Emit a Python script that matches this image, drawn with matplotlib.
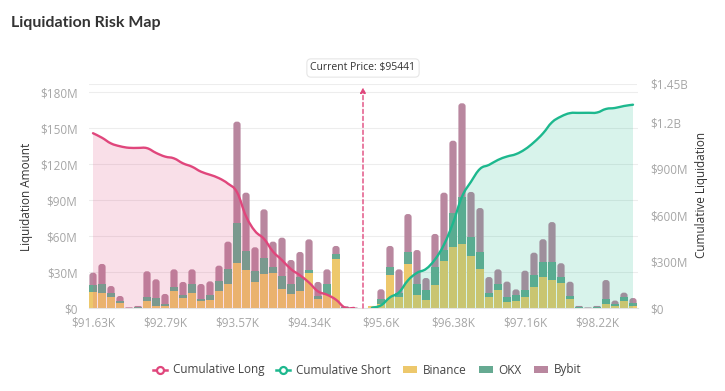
import numpy as np
import matplotlib
matplotlib.use("Agg")
import matplotlib.pyplot as plt
from matplotlib.path import Path
from matplotlib.patches import PathPatch, Patch, FancyBboxPatch
from matplotlib.lines import Line2D

# ---------------- data ----------------
tick_idx = [0, 8, 16, 24, 32, 40, 48, 56]
tick_labels = ["$91.63K", "$92.79K", "$93.57K", "$94.34K", "$95.6K", "$96.38K", "$97.16K", "$98.22K"]

binance = [13.6, 12.8, 8.9, 3.9, 0.2, 0.3, 6.1, 1.9, 1.9, 14.4,
           8.3, 12.8, 5.6, 6.7, 14.4, 20.0, 37.2, 31.7, 21.9, 28.3,
           28.9, 16.1, 11.7, 14.4, 29.4, 7.8, 10.6, 40.6, 0.3, 0.1,
           0.0,
           1.7, 3.0, 27.5, 8.9, 36.7, 10.6, 6.7, 19.2, 38.9, 50.6,
           53.3, 43.6, 32.8, 9.4, 15.0, 5.3, 6.1, 8.9, 17.2, 25.6,
           23.3, 20.6, 7.2, 0.3, 0.1, 0.3, 3.3, 1.7, 6.1, 1.7]
okx = [5.6, 7.5, 3.3, 1.7, 0.1, 0.3, 3.3, 6.4, 1.1, 3.3,
       2.8, 7.2, 2.2, 4.4, 8.1, 12.2, 33.9, 16.1, 9.2, 13.4,
       5.0, 10.6, 8.3, 11.7, 2.2, 2.2, 9.4, 4.4, 0.5, 0.2,
       0.0,
       0.0, 4.2, 6.9, 3.9, 10.2, 9.4, 8.3, 14.7, 9.4, 28.3,
       39.5, 15.3, 13.9, 3.4, 5.0, 4.2, 4.7, 6.1, 10.0, 12.8,
       15.0, 5.6, 2.8, 0.5, 0.2, 0.5, 4.4, 1.7, 2.8, 2.2]
bybit = [10.2, 16.4, 6.1, 4.4, 0.3, 1.1, 21.2, 15.6, 8.7, 14.5,
         10.6, 12.2, 12.2, 11.1, 12.8, 23.1, 84.2, 48.3, 19.5, 40.5,
         21.4, 31.9, 20.0, 20.6, 25.6, 11.7, 12.2, 6.7, 0.7, 0.2,
         0.0,
         0.0, 8.4, 17.3, 19.4, 31.4, 28.3, 10.0, 27.8, 47.8, 60.5,
         77.8, 37.8, 36.6, 13.0, 12.2, 12.5, 4.7, 16.1, 18.9, 18.9,
         33.3, 11.1, 11.9, 0.9, 0.2, 0.9, 15.6, 2.8, 3.9, 4.4]

current_idx = 30
current_label = "Current Price: $95441"
long_range = (0, 29)     # categories below current price
short_range = (31, 60)   # categories above current price

left_ticks = [0, 30, 60, 90, 120, 150, 180]
left_labels = ["$0", "$30M", "$60M", "$90M", "$120M", "$150M", "$180M"]
right_ticks = [0, 300, 600, 900, 1200, 1450]
right_labels = ["$0", "$300M", "$600M", "$900M", "$1.2B", "$1.45B"]

# ---------------- style ----------------
C_BIN = "#EDC86C"
C_OKX = "#66AA92"
C_BYB = "#B9879F"
C_LONG = "#E0467C"
C_SHORT = "#1DB88E"
FONT = "Open Sans"
plt.rcParams["font.family"] = [FONT, "DejaVu Sans"]

W, H = 725, 391
fig = plt.figure(figsize=(W / 100, H / 100), dpi=100)
fig.patch.set_facecolor("white")
L, R, T, B = 88.5, 637.5, 84, 308
ax = fig.add_axes([L / W, 1 - B / H, (R - L) / W, (B - T) / H])
ax2 = ax.twinx()

n = len(binance)
x = np.arange(n)
b = np.array(binance); o = np.array(okx); y = np.array(bybit)
total = b + o + y

ylim_left = 180 * (B - T) / (B - 92)
ax.set_xlim(-0.5, n - 0.5)
ax.set_ylim(0, ylim_left)
ax2.set_ylim(0, 1450)

# pixel -> data scale factors for rounded bar tops
px_x = (n) / (R - L)            # data x per pixel
px_y = ylim_left / (B - T)      # data y per pixel
aspect = px_y / px_x

bw = 0.8
# full-height bars in the top-segment colour with rounded tops, lower segments on top
full = ax.bar(x, total, width=bw, color=C_BYB, linewidth=0, zorder=2)
for rect in full:
    h = rect.get_height()
    if h <= 0:
        rect.remove()
        continue
    rad = min(3.0 * px_x, h / aspect / 2.0)
    fb = FancyBboxPatch((rect.get_x(), rect.get_y()), rect.get_width(), h,
                        boxstyle=f"round,pad=0,rounding_size={rad}",
                        mutation_aspect=aspect, facecolor=C_BYB, edgecolor="none", zorder=2)
    ax.add_patch(fb)
    rect.remove()
ax.bar(x, b, width=bw, color=C_BIN, zorder=2.1, linewidth=0)
ax.bar(x, o, width=bw, bottom=b, color=C_OKX, zorder=2.1, linewidth=0)

for v in left_ticks[1:]:
    ax.axhline(v, color="#EDEDED", lw=0.8, zorder=0)
ax2.axhline(1450, color="#EDEDED", lw=0.8, zorder=0)

# cumulative series from bar totals
lo0, lo1 = long_range
so0, so1 = short_range
long_x = x[lo0:lo1 + 1]
long_cum = np.cumsum(total[lo0:lo1 + 1][::-1])[::-1]
short_x = x[so0:so1 + 1]
short_cum = np.cumsum(total[so0:so1 + 1])


def smooth_path(xs, ys, close=False, k=0.2):
    pts = np.column_stack([xs, ys]).astype(float)
    verts = [pts[0]]
    codes = [Path.MOVETO]
    m = len(pts)
    for i in range(m - 1):
        p0 = pts[i - 1] if i > 0 else pts[i]
        p1 = pts[i]
        p2 = pts[i + 1]
        p3 = pts[i + 2] if i + 2 < m else pts[i + 1]
        c1 = p1 + (p2 - p0) * k
        c2 = p2 - (p3 - p1) * k
        verts += [c1, c2, p2]
        codes += [Path.CURVE4] * 3
    if close:
        verts += [[xs[-1], 0], [xs[0], 0], pts[0]]
        codes += [Path.LINETO, Path.LINETO, Path.CLOSEPOLY]
    return Path(np.array(verts), codes)


for xs, ys, c in [(long_x, long_cum, C_LONG), (short_x, short_cum, C_SHORT)]:
    ax2.add_patch(PathPatch(smooth_path(xs, ys, close=True), facecolor=c, alpha=0.17,
                            edgecolor="none", zorder=1))
    ax2.add_patch(PathPatch(smooth_path(xs, ys), facecolor="none", edgecolor=c, lw=1.7,
                            zorder=3, capstyle="round", joinstyle="round"))

# current price marker
ax2.annotate("", xy=(current_idx, 1450 * 0.985), xytext=(current_idx, 0),
             arrowprops=dict(arrowstyle="-|>", color=C_LONG, lw=1.0, ls=(0, (3, 2)),
                             mutation_scale=8, shrinkA=0, shrinkB=0), zorder=4)
ax2.text(current_idx, 1450 + 16 * 1450 / (B - T), current_label, ha="center", va="center",
         fontsize=7.5, color="#333333",
         bbox=dict(boxstyle="round,pad=0.35,rounding_size=0.4", fc="white", ec="#E6E6E6", lw=0.8),
         clip_on=False, zorder=5)

# axes styling
for a in (ax, ax2):
    for s in ("top", "left", "right"):
        a.spines[s].set_visible(False)
ax.spines["bottom"].set_color("#E3E3E3")
ax2.spines["bottom"].set_visible(False)

ax.set_xticks(tick_idx)
ax.set_xticklabels(tick_labels)
ax.tick_params(axis="x", length=0, pad=6, labelsize=8.5, labelcolor="#A6A6A6")
ax.set_yticks(left_ticks)
ax.set_yticklabels(left_labels)
ax.tick_params(axis="y", length=0, pad=8, labelsize=8.5, labelcolor="#A6A6A6")
ax2.set_yticks(right_ticks)
ax2.set_yticklabels(right_labels)
ax2.tick_params(axis="y", length=0, pad=9, labelsize=8.5, labelcolor="#A6A6A6")

fig.text(26.5 / W, 1 - 197 / H, "Liquidation Amount", rotation=90, ha="center", va="center",
         fontsize=8.5, color="#333333")
fig.text(701.5 / W, 1 - 195 / H, "Cumulative Liquidation", rotation=90, ha="center", va="center",
         fontsize=8.5, color="#333333")

fig.text(11 / W, 1 - 23 / H, "Liquidation Risk Map", ha="left", va="center",
         fontsize=11.5, fontweight="bold", color="#333333", family=["Lato", "DejaVu Sans"])

handles = [
    Line2D([], [], color=C_LONG, lw=1.8, marker="o", markersize=5, markerfacecolor="white",
           markeredgewidth=1.6),
    Line2D([], [], color=C_SHORT, lw=1.8, marker="o", markersize=5, markerfacecolor="white",
           markeredgewidth=1.6),
    Patch(facecolor=C_BIN, edgecolor="none"),
    Patch(facecolor=C_OKX, edgecolor="none"),
    Patch(facecolor=C_BYB, edgecolor="none"),
]
labels = ["Cumulative Long", "Cumulative Short", "Binance", "OKX", "Bybit"]
fig.legend(handles, labels, loc="center", bbox_to_anchor=(367 / W, 1 - 370 / H), ncol=5,
           frameon=False, fontsize=8.5, handlelength=1.2, handleheight=0.6, handletextpad=0.5,
           columnspacing=1.0, labelcolor="#444444")

fig.savefig("out.png", dpi=100)
